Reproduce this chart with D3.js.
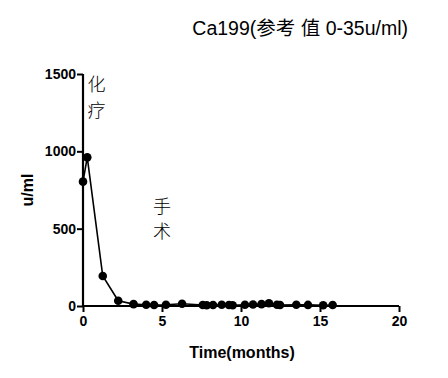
<!DOCTYPE html>
<html><head><meta charset="utf-8">
<script src="https://cdn.jsdelivr.net/npm/d3@7"></script>
<style>body{margin:0;background:#fff}svg{display:block}</style>
</head><body>
<svg id="c" width="448" height="378"></svg>
<script>
const months = [0, 0.27, 1.25, 2.23, 3.2, 4.0, 4.5, 5.25, 6.27, 7.58, 7.83, 8.23, 8.78, 9.24, 9.47, 10.25, 10.76, 11.3, 11.77, 12.28, 12.47, 13.5, 14.24, 15.2, 15.8];
const values = [804, 961, 194, 34, 12, 8, 6, 8, 15, 6, 5, 6, 8, 6, 5, 8, 10, 12, 18, 8, 6, 8, 7, 5, 6];
const xTicks = [0, 5, 10, 15, 20];
const yTicks = [0, 500, 1000, 1500];
const title = "Ca199(参考 值 0-35u/ml)";
const xTitle = "Time(months)";
const yTitle = "u/ml";
const notes = [{t:"化", x:0.85, y:1440}, {t:"疗", x:0.85, y:1275}, {t:"手", x:5.0, y:650}, {t:"术", x:5.0, y:490}];

const svg = d3.select("#c");
const x = d3.scaleLinear().domain([0, 20]).range([83, 399]);
const y = d3.scaleLinear().domain([0, 1500]).range([306, 74]);

const bold = "'Liberation Sans', Arial, sans-serif";

const xa = svg.append("g").attr("transform", "translate(0,306)")
  .call(d3.axisBottom(x).tickValues(xTicks).tickFormat(d3.format("d")).tickSize(6).tickPadding(4));
const ya = svg.append("g").attr("transform", "translate(83,0)")
  .call(d3.axisLeft(y).tickValues(yTicks).tickFormat(d3.format("d")).tickSize(6).tickPadding(1));
[xa, ya].forEach(a => {
  a.select(".domain").attr("stroke", "#000").attr("stroke-width", 2.2);
  a.selectAll(".tick line").attr("stroke", "#000").attr("stroke-width", 2);
  a.selectAll(".tick text").attr("fill", "#000").attr("font-family", bold)
    .attr("font-weight", "bold").attr("font-size", 14);
});
xa.select(".domain").attr("d", "M83,0H399");
ya.select(".domain").attr("d", "M0,306V74");

const line = d3.line().x((d, i) => x(months[i])).y(d => y(d));
svg.append("path").datum(values).attr("d", line)
  .attr("fill", "none").attr("stroke", "#000").attr("stroke-width", 1.6);
svg.selectAll("circle.p").data(values).join("circle").attr("class", "p")
  .attr("cx", (d, i) => x(months[i])).attr("cy", d => y(d)).attr("r", 4.3).attr("fill", "#000");

svg.append("text").attr("x", 242).attr("y", 358).attr("text-anchor", "middle")
  .attr("font-family", bold).attr("font-weight", "bold").attr("font-size", 16).text(xTitle);
svg.append("text").attr("transform", "translate(33,190) rotate(-90)").attr("text-anchor", "middle")
  .attr("font-family", bold).attr("font-weight", "bold").attr("font-size", 16).text(yTitle);
svg.append("text").attr("x", 408).attr("y", 35).attr("text-anchor", "end").attr("fill", "#000")
  .attr("font-family", "'Liberation Sans', 'Noto Sans CJK SC', sans-serif").attr("font-size", 19.5).text(title);

svg.selectAll("text.n").data(notes).join("text").attr("class", "n")
  .attr("x", d => x(d.x)).attr("y", d => y(d.y)).attr("text-anchor", "middle")
  .attr("dominant-baseline", "central").attr("fill", "#000")
  .attr("font-family", "'Noto Sans CJK SC', sans-serif").attr("font-weight", 300).attr("font-size", 18).text(d => d.t);
</script>
</body></html>
